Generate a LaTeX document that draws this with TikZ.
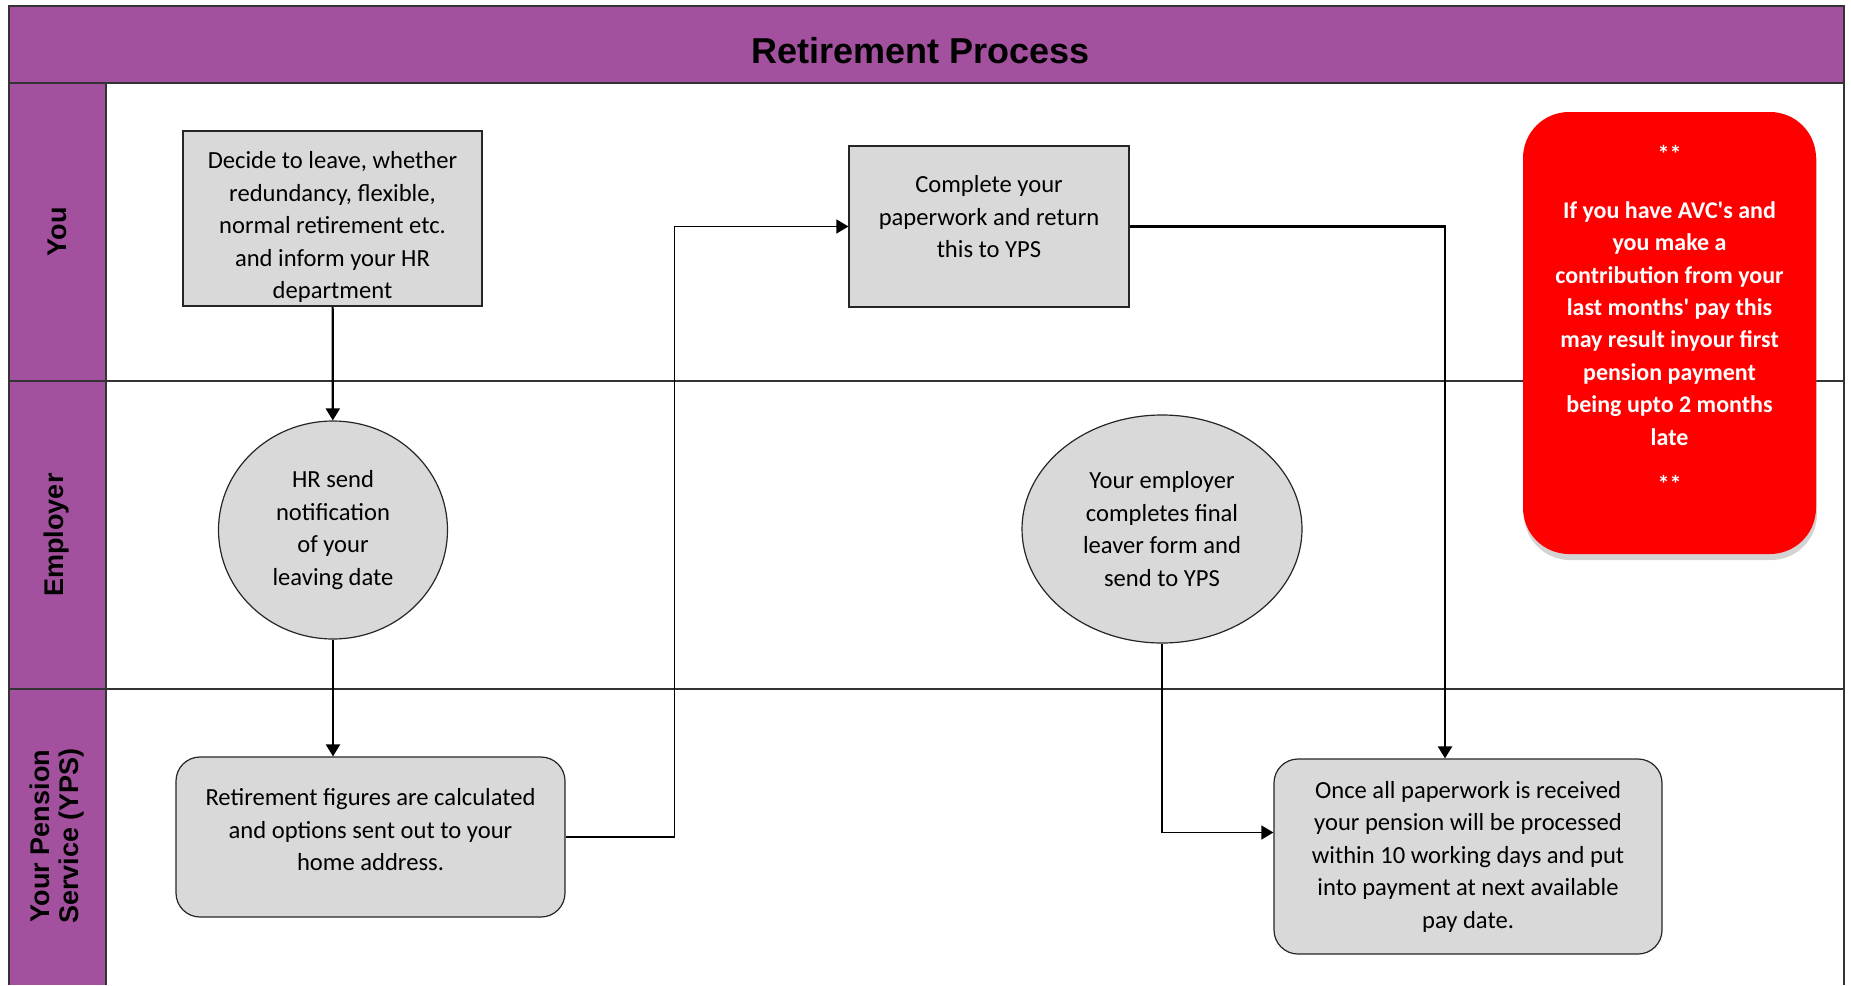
\documentclass[tikz,border=0pt]{standalone}
\usepackage{fontspec}
\setmainfont{Carlito}
\newfontfamily\headfont{Liberation Sans}
\usepackage{xcolor}
\usepackage{tikz}
\usetikzlibrary{shapes,arrows.meta,positioning,shadows,calc}
\definecolor{lanepurple}{HTML}{A3519F}
\definecolor{boxgray}{HTML}{D9D9D9}
\definecolor{notered}{HTML}{FF0000}

\begin{document}
\begin{tikzpicture}[x=0.5pt, y=-0.5pt,
    stepbox/.style={rectangle, draw=black!85, semithick, fill=boxgray, align=center, font=\fontsize{12.3}{16.25}\selectfont},
    roundbox/.style={stepbox, rounded corners=12pt},
    hrcircle/.style={ellipse, draw=black!85, semithick, fill=boxgray, align=center, inner sep=0pt, font=\fontsize{12.3}{16.25}\selectfont},
    notebox/.style={rectangle, rounded corners=23pt, fill=notered, drop shadow={shadow xshift=0.5pt, shadow yshift=-3pt, opacity=0.35}},
    notetext/.style={align=center, text=white, font=\bfseries\fontsize{12}{16.2}\selectfont},
    lanelabel/.style={rotate=90, align=center, font=\headfont\bfseries\fontsize{13.5}{14.8}\selectfont},
    flow/.style={-{Triangle[length=6pt,width=7pt]}, line width=1.1pt},
    link/.style={-{Triangle[length=6pt,width=7pt]}, semithick}]
    \useasboundingbox (0,0) rectangle (1851,985);

    % Swimlanes
    \fill[lanepurple] (9,6) rectangle (1844,83);
    \fill[lanepurple] (9,83) rectangle (106,985);
    \draw[black!80, thick] (9,985) -- (9,6) -- (1844,6) -- (1844,985);
    \draw[black!80, semithick] (9,83) -- (1844,83);
    \draw[black!80, semithick] (106,83) -- (106,985);
    \draw[black!80, semithick] (9,381) -- (1844,381);
    \draw[black!80, semithick] (9,689) -- (1844,689);
    \node[font=\headfont\bfseries\fontsize{18}{20}\selectfont] (title) at (921,51) {Retirement Process};
    \node[lanelabel] (you) at (57,232) {You};
    \node[lanelabel] (employer) at (57,535) {Employer};
    \node[lanelabel] (yps) at (57,836) {Your Pension\\Service (YPS)};

    % You
    \node[stepbox, inner ysep=0pt, minimum width=149.5pt, minimum height=87.5pt] (Y1) at (332.5,218.5)
        {\rule{0pt}{17pt}Decide to leave, whether\\redundancy, flexible,\\normal retirement etc.\\and inform your HR\\department};
    \node[stepbox, minimum width=140pt, minimum height=80.5pt] (Y2) at (989,226.5)
        {Complete your\\paperwork and return\\this to YPS\\[-6.5pt]};

    % Employer
    \node[hrcircle, minimum width=114.5pt, minimum height=109pt] (E1) at (333,530)
        {HR send\\notification\\of your\\leaving date};
    \node[hrcircle, minimum width=140pt, minimum height=114pt] (E2) at (1162,529)
        {Your employer\\completes final\\leaver form and\\send to YPS};

    % Your Pension Service
    \node[roundbox, minimum width=194.5pt, minimum height=80pt] (S1) at (370.5,837)
        {Retirement figures are calculated\\and options sent out to your\\home address.\\[-9pt]};
    \node[roundbox, minimum width=194pt, minimum height=97.5pt] (S2) at (1468,856.5)
        {Once all paperwork is received\\your pension will be processed\\within 10 working days and put\\into payment at next available\\pay date.};

    % AVC note
    \node[notebox, minimum width=146.5pt, minimum height=221pt] (avc) at (1669.5,333) {};
    \node[notetext] (avctext) at (1669.5,319)
        {**\\[11.5pt]If you have AVC\textquotesingle s and\\you make a\\contribution from your\\last months\textquotesingle{} pay this\\may result inyour first\\pension payment\\being upto 2 months\\late\\[7.4pt]**};

    \draw[flow] (Y1) -- (E1);
    \draw[flow] (E1.south) -- (E1.south |- S1.north);
    \draw[link] (S1.east) -- ++(109,0) |- (Y2.west);
    \draw[flow] (Y2.east) -| ([xshift=-11.5pt]S2.north);
    \draw[link] (E2.south) |- ([yshift=12pt]S2.west);
\end{tikzpicture}
\end{document}
